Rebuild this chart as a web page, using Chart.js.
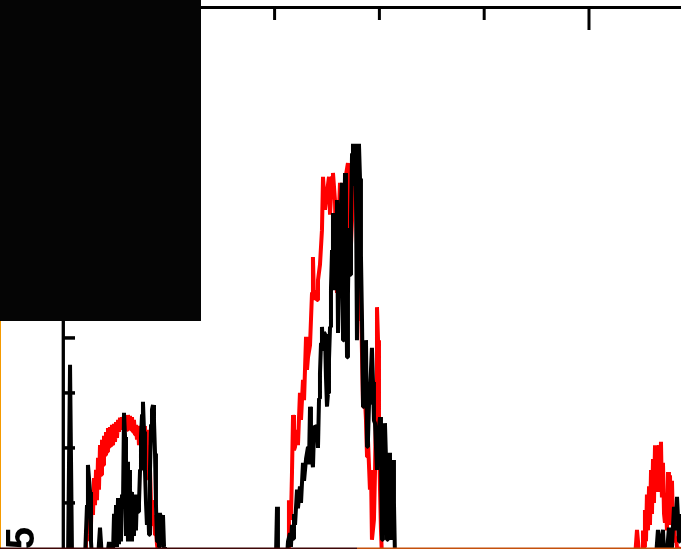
<!DOCTYPE html>
<html>
<head>
<meta charset="utf-8">
<script src="https://cdn.jsdelivr.net/npm/chart.js@4.4.1/dist/chart.umd.min.js"></script>
<style>
html,body{margin:0;padding:0;background:#fff;overflow:hidden;}
canvas{display:block;}
</style>
</head>
<body>
<canvas id="c" width="681" height="549"></canvas>
<script>
// ---- data (x in axis units, y in axis units) ----
const redBand1 = [[19.1,0],[20.0,0.51],[21.0,0.33],[21.9,0.78],[22.9,0.42],[23.9,1.05],[24.8,0.6],[25.8,1.24],[26.7,0.78],[27.7,1.45],[28.6,0.96],[29.6,1.6],[30.5,1.05],[31.5,1.82],[32.4,1.24],[33.4,2.05],[34.4,1.51],[35.3,2.15],[36.3,1.69],[37.2,2.22],[38.2,1.87],[39.1,2.29],[40.1,1.93],[41.0,2.36],[42.0,2.02],[42.9,2.38],[43.9,2.05],[44.8,2.42],[45.8,2.05],[46.8,2.44],[47.7,2.11],[48.7,2.47],[49.6,2.18],[50.6,2.51],[51.5,2.29],[52.5,2.55],[53.4,2.33],[54.4,2.56],[55.3,2.36],[56.3,2.58],[57.3,2.36],[58.2,2.58],[59.2,2.33],[60.1,2.6],[61.1,2.36],[62.0,2.58],[63.0,2.33],[63.9,2.56],[64.9,2.29],[65.8,2.51],[66.8,2.24],[67.7,2.42],[68.7,2.15],[69.7,2.4],[70.6,2.05],[71.6,2.36],[72.5,2.05],[73.5,2.42],[74.4,2.15],[75.4,2.4],[76.3,2.05],[77.3,2.33],[78.2,1.87],[79.2,2.05],[80.2,1.42],[81.1,1.6],[82.1,0.96],[83.0,1.05],[84.0,0.6],[84.9,0.78],[85.9,0.42],[86.8,0.51],[87.8,0.24],[88.7,0.24],[89.7,0]];
const redBand2 = [[210.9,0],[212.8,0.15],[213.7,1.05],[215.6,0.69],[216.6,1.55],[217.6,2.6],[218.5,1.96],[219.5,2.02],[221.4,2.33],[222.3,2.05],[224.2,3.0],[225.2,2.51],[227.1,3.24],[228.1,2.87],[230.0,4.02],[230.9,3.42],[231.9,3.65],[233.8,3.87],[235.7,4.82],[236.6,5.47],[237.6,4.69],[238.6,4.87],[240.5,4.69],[241.4,5.05],[243.3,5.33],[245.2,5.96],[246.2,6.93],[248.1,6.33],[250.0,6.64],[251.9,6.93],[252.9,6.24],[254.8,6.93],[255.7,7.0],[257.6,6.51],[259.5,4.82],[260.5,5.78],[262.4,6.82],[264.3,6.51],[266.2,6.69],[268.1,6.96],[270.0,7.18],[272.0,5.29],[273.9,6.15],[275.8,6.87],[277.7,7.15],[278.6,7.0],[280.5,5.6],[281.5,4.33],[282.4,4.69],[284.4,2.75],[285.3,3.24],[287.2,2.51],[288.2,1.84],[289.1,2.15],[291.0,1.24],[292.0,1.6],[292.9,0.33],[294.8,0.69],[295.8,1.55],[296.8,2.87],[297.7,4.56],[298.7,3.96],[299.6,2.33],[300.6,1.24],[301.5,0.51],[302.5,0]];
const redBand3 = [[543.9,0],[545.8,0.51],[547.7,0.1],[550.6,0],[551.5,0.5],[552.5,0.2],[553.4,0.87],[554.4,0.3],[555.3,1.15],[556.3,0.5],[557.3,1.3],[558.2,0.6],[559.2,1.6],[560.1,0.8],[561.1,1.8],[562.0,1.0],[563.0,2.05],[563.9,1.2],[564.9,2.0],[565.8,1.3],[566.8,2.05],[567.7,1.2],[568.7,2.11],[569.6,1.1],[570.6,1.73],[571.6,0.8],[572.5,0.64],[573.5,1.0],[574.4,0.5],[575.4,1.56],[576.3,0.6],[577.3,1.5],[578.2,0.7],[579.2,1.4],[580.2,0.5],[581.1,0.69],[582.1,0.3],[583.0,0.38],[584.0,0.18],[585.9,0],[587.8,0.2]];

const blackBand0 = [[0,0],[2.9,0],[4.8,3.51],[6.7,0]];
const blackBand1 = [[19.1,0],[21.0,0.96],[21.9,1.69],[23.9,1.2],[24.8,0.3],[25.8,0],[31.5,0],[33.4,0.55],[35.3,0],[40.1,0],[42.0,0.29],[42.9,0],[45.8,0.1],[46.8,0.8],[47.7,0.2],[48.7,0.96],[49.6,0.2],[50.6,1.09],[51.5,0.25],[52.5,1.0],[53.4,0.3],[54.4,1.15],[55.3,0.9],[56.3,2.64],[57.3,2.2],[58.2,0.4],[59.2,1.75],[60.1,0.3],[61.1,1.6],[62.0,0.4],[63.0,1.2],[63.9,0.3],[64.9,1.15],[65.8,0.4],[66.8,1.1],[67.7,0.5],[68.7,1.15],[69.7,0.84],[70.6,1.0],[71.6,1.6],[72.5,2.2],[73.5,2.6],[74.4,2.84],[75.4,2.3],[76.3,1.6],[77.3,1.0],[78.2,0.6],[79.2,1.0],[80.2,0.42],[81.1,1.6],[82.1,2.42],[83.0,2.7],[84.0,2.78],[84.9,2.5],[85.9,1.9],[86.8,0.96],[87.8,0.3],[88.7,0.8],[89.7,0.2],[90.6,0.82],[91.6,0.3],[92.6,0.75],[93.5,0.78],[94.5,0.2],[95.4,0]];
const blackBand2 = [[201.3,0],[202.3,0.93],[203.2,0],[211.8,0],[212.8,0.3],[214.7,0.45],[215.6,0.2],[216.6,0.6],[217.6,0.35],[218.5,0.8],[219.5,0.6],[221.4,1.24],[222.3,0.9],[224.2,1.3],[225.2,1.0],[227.1,1.73],[228.1,1.4],[230.0,1.8],[231.9,2.02],[232.8,1.7],[233.8,2.75],[234.7,2.3],[235.7,1.8],[236.6,1.65],[237.6,2.3],[238.6,2.4],[240.5,2.38],[241.4,2.0],[242.4,2.9],[243.3,3.36],[244.3,3.9],[245.2,4.2],[246.2,3.8],[247.1,4.1],[248.1,4.07],[249.0,3.3],[250.0,2.75],[251.0,3.0],[251.9,3.6],[252.9,4.2],[253.8,4.9],[254.8,5.6],[255.7,6.27],[256.7,5.8],[257.6,4.87],[258.6,5.5],[259.5,6.51],[260.5,4.09],[261.5,5.0],[262.4,6.0],[264.3,6.82],[265.3,3.96],[266.2,5.5],[267.2,7.0],[268.1,5.6],[269.1,3.65],[270.0,4.8],[271.0,6.0],[272.0,5.15],[272.9,6.2],[273.9,7.35],[274.8,7.53],[275.8,6.8],[276.7,7.53],[277.7,6.5],[278.6,3.96],[279.6,6.0],[280.5,7.53],[281.5,6.9],[282.4,5.5],[283.4,4.33],[284.4,2.75],[285.3,3.3],[286.3,3.2],[287.2,3.96],[288.2,2.02],[289.1,2.15],[290.1,2.8],[291.0,3.0],[292.9,3.82],[293.9,3.2],[294.8,2.5],[295.8,2.45],[296.8,2.0],[297.7,1.6],[298.7,2.2],[300.6,2.56],[301.5,1.9],[302.5,0.33],[303.4,1.55],[304.4,2.0],[305.3,2.45],[306.3,1.8],[307.3,0.33],[308.2,1.2],[309.2,1.91],[310.1,1.73],[311.1,0.5],[312.0,0.33],[313.0,1.78],[313.9,1.0],[314.9,0]];
const blackBand3 = [[563.9,0],[565.8,0.51],[566.8,0.2],[567.7,0.1],[568.7,0.3],[570.6,0.51],[571.6,0.1],[573.5,0.2],[574.4,0.1],[576.3,0.55],[577.3,0.3],[578.2,0.1],[579.2,0.2],[581.1,0.93],[582.1,0.5],[584.0,1.11],[585.0,0.7],[585.9,0.3],[586.8,0.6],[587.8,0.8]];

const xMinorTicks = [100, 200, 300, 400];
const xMajorTicks = [500];
const yTicks = [1, 2, 3, 4, 5, 6, 7, 8, 9];
const axisTitleTail = '5';

const toPts = arr => arr.map(p => ({x: p[0], y: p[1]}));
const redData = toPts([].concat(redBand1, redBand2, redBand3));
const blackData = toPts([].concat(blackBand0, blackBand1, blackBand2, blackBand3));

const decor = {
  id: 'decor',
  afterDatasetsDraw(chart) {
    const ctx = chart.ctx;
    const xs = chart.scales.x, ys = chart.scales.y;
    const top = ys.getPixelForValue(10);
    const x0 = xs.getPixelForValue(0);
    ctx.save();
    ctx.strokeStyle = '#000';
    ctx.lineCap = 'butt';
    // top axis
    ctx.lineWidth = 3;
    ctx.beginPath(); ctx.moveTo(0, top - 0.5); ctx.lineTo(chart.width, top - 0.5); ctx.stroke();
    // left axis
    ctx.lineWidth = 3.3;
    ctx.beginPath(); ctx.moveTo(x0 - 1.7, 0); ctx.lineTo(x0 - 1.7, chart.height); ctx.stroke();
    // x ticks (inward)
    ctx.lineWidth = 3;
    xMinorTicks.forEach(v => {
      const px = xs.getPixelForValue(v);
      ctx.beginPath(); ctx.moveTo(px, top); ctx.lineTo(px, top + 12); ctx.stroke();
    });
    xMajorTicks.forEach(v => {
      const px = xs.getPixelForValue(v);
      ctx.beginPath(); ctx.moveTo(px, top); ctx.lineTo(px, top + 22); ctx.stroke();
    });
    // y ticks (inward)
    ctx.lineWidth = 3.5;
    yTicks.forEach(v => {
      const py = ys.getPixelForValue(v);
      ctx.beginPath(); ctx.moveTo(x0 - 1, py); ctx.lineTo(x0 + 10, py); ctx.stroke();
    });
    // dark overlay box top-left
    ctx.fillStyle = '#050505';
    ctx.fillRect(0, 0, 201, 321);
    // edge lines
    ctx.fillStyle = '#f59a00';
    ctx.fillRect(0, 321, 1, chart.height - 321);
    ctx.fillStyle = '#3e0606';
    ctx.fillRect(0, chart.height - 1.5, 357, 1.5);
    ctx.fillStyle = '#c4500c';
    ctx.fillRect(357, chart.height - 1.5, chart.width - 357, 1.5);
    // rotated axis title fragment
    ctx.fillStyle = '#000';
    ctx.font = 'bold 40px "Liberation Sans", Arial, sans-serif';
    ctx.textAlign = 'right';
    ctx.textBaseline = 'alphabetic';
    ctx.translate(34, 527);
    ctx.rotate(-Math.PI / 2);
    ctx.fillText(axisTitleTail, 0, 0);
    ctx.restore();
  }
};

new Chart(document.getElementById('c'), {
  type: 'line',
  data: {
    datasets: [
      {label: 'black', data: blackData, borderColor: '#000000', borderWidth: 4, pointRadius: 0, tension: 0, borderJoinStyle: 'bevel', fill: false},
      {label: 'red', data: redData, borderColor: '#ff0000', borderWidth: 4, pointRadius: 0, tension: 0, borderJoinStyle: 'bevel', fill: false}
    ]
  },
  options: {
    responsive: false,
    animation: false,
    events: [],
    layout: {padding: {left: 65, top: 8, right: 0, bottom: 1}},
    plugins: {legend: {display: false}, tooltip: {enabled: false}},
    scales: {
      x: {type: 'linear', min: 0, max: 587.8, display: false},
      y: {type: 'linear', min: 0.18, max: 10, display: false}
    }
  },
  plugins: [decor]
});
</script>
</body>
</html>
